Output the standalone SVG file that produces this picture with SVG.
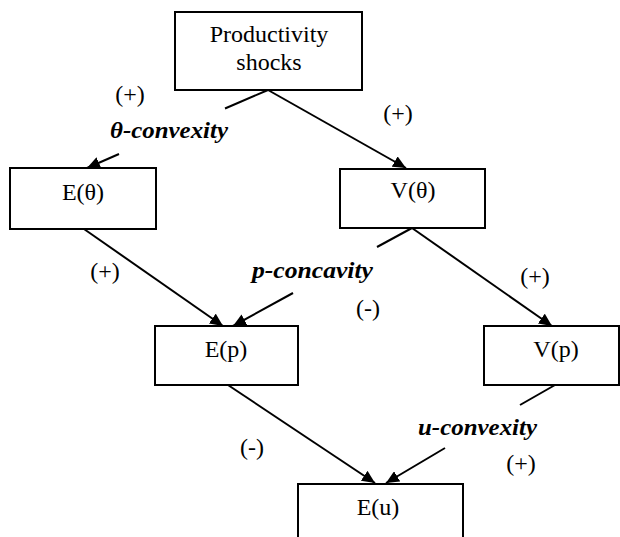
<svg xmlns="http://www.w3.org/2000/svg" width="620" height="537" viewBox="0 0 620 537">
<style>
.box{fill:#fff;stroke:#000;stroke-width:2}
.t{font-family:'Liberation Serif','Times New Roman',serif;font-size:24px;fill:#000;text-anchor:middle}
.l{font-family:'Liberation Serif','Times New Roman',serif;font-size:24px;font-weight:bold;font-style:italic;fill:#000}
.c{stroke:#000;stroke-width:2;fill:none}
</style>
<defs>
<marker id="ah" markerUnits="userSpaceOnUse" markerWidth="14" markerHeight="12" refX="13" refY="6" orient="auto">
<path d="M0,0 L13,6 L0,12 Z" fill="#000"/>
</marker>
</defs>
<rect width="620" height="537" fill="#fff"/>
<g id="connectors">
<line class="c" x1="268" y1="90" x2="225" y2="108.5"/>
<line class="c" x1="119" y1="154" x2="87" y2="168" marker-end="url(#ah)"/>
<line class="c" x1="268" y1="90" x2="406" y2="168" marker-end="url(#ah)"/>
<line class="c" x1="84" y1="229" x2="223" y2="326" marker-end="url(#ah)"/>
<line class="c" x1="412" y1="228" x2="377" y2="247"/>
<line class="c" x1="293" y1="293" x2="233" y2="326" marker-end="url(#ah)"/>
<line class="c" x1="412" y1="228" x2="552" y2="326" marker-end="url(#ah)"/>
<line class="c" x1="228" y1="385" x2="375" y2="483" marker-end="url(#ah)"/>
<line class="c" x1="555" y1="385" x2="520" y2="405"/>
<line class="c" x1="445" y1="448" x2="386" y2="483" marker-end="url(#ah)"/>
</g>
<g id="labels">
<text class="t" x="130" y="102">(+)</text>
<text class="l" x="110" y="138" textLength="118" lengthAdjust="spacingAndGlyphs">θ-convexity</text>
<text class="t" x="398" y="121">(+)</text>
<text class="t" x="105" y="279">(+)</text>
<text class="l" x="252" y="278" textLength="121" lengthAdjust="spacingAndGlyphs">p-concavity</text>
<text class="t" x="368" y="316">(-)</text>
<text class="t" x="535" y="284">(+)</text>
<text class="t" x="252" y="455">(-)</text>
<text class="l" x="418" y="435" textLength="119" lengthAdjust="spacingAndGlyphs">u-convexity</text>
<text class="t" x="521" y="471">(+)</text>
</g>
<g id="node-shocks">
<rect class="box" x="175" y="12" width="187" height="78"/>
<text class="t" x="269" y="42">Productivity</text>
<text class="t" x="269" y="70">shocks</text>
</g>
<g id="node-Etheta">
<rect class="box" x="10" y="168" width="146" height="61"/>
<text class="t" x="83" y="200">E(θ)</text>
</g>
<g id="node-Vtheta">
<rect class="box" x="340" y="169" width="145" height="59"/>
<text class="t" x="413" y="198">V(θ)</text>
</g>
<g id="node-Ep">
<rect class="box" x="155" y="326" width="143" height="59"/>
<text class="t" x="226" y="357">E(p)</text>
</g>
<g id="node-Vp">
<rect class="box" x="484" y="326" width="135" height="59"/>
<text class="t" x="556" y="357">V(p)</text>
</g>
<g id="node-Eu">
<rect class="box" x="298" y="484" width="165" height="60"/>
<text class="t" x="378" y="515">E(u)</text>
</g>
</svg>
